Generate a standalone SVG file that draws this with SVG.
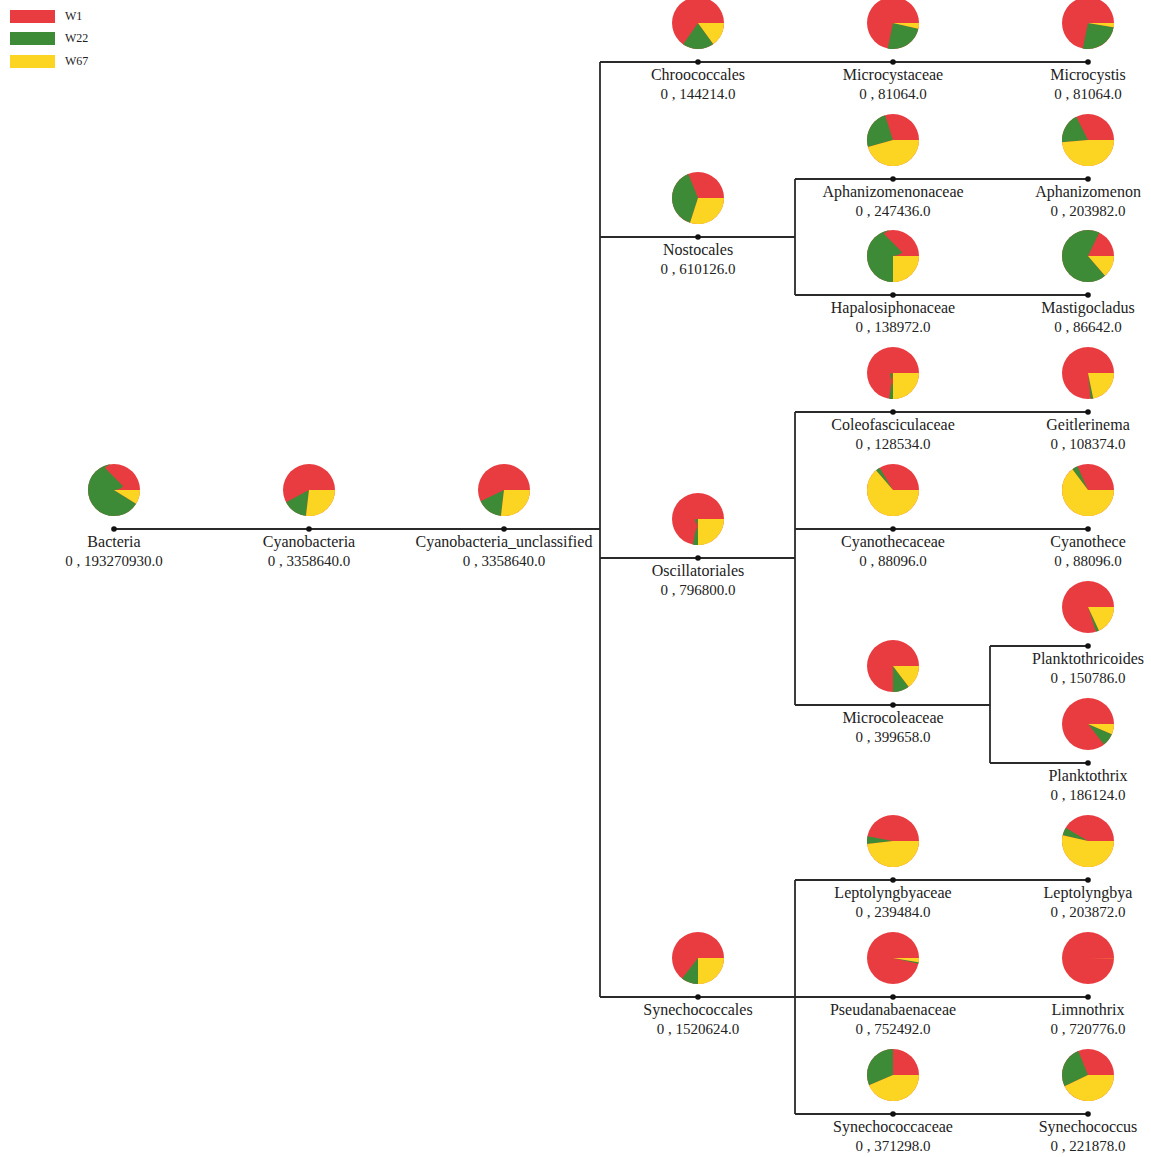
<svg xmlns="http://www.w3.org/2000/svg" width="1151" height="1157" viewBox="0 0 1151 1157">
<style>
  text { font-family: "Liberation Serif", "Times New Roman", serif; fill: #222; }
  .nm { font-size: 16px; text-anchor: middle; }
  .vl { font-size: 15px; text-anchor: middle; }
  .lg { font-size: 12px; }
  .conn path { fill: none; stroke: #2a2a2a; stroke-width: 1.8; }
  .dot { fill: #111; }
  .base { fill: #E93C40; }
  .sl { fill: none; stroke-width: 26; }
  .g { stroke: #3E8B37; }
  .y { stroke: #FCD523; }
</style>
<rect width="1151" height="1157" fill="#fff"/>

<g id="legend">
  <rect x="10" y="10" width="45" height="13" fill="#E93C40"/>
  <rect x="10" y="32" width="45" height="13" fill="#3E8B37"/>
  <rect x="10" y="55" width="45" height="13" fill="#FCD523"/>
  <text class="lg" x="65" y="19.5">W1</text>
  <text class="lg" x="65" y="41.5">W22</text>
  <text class="lg" x="65" y="64.5">W67</text>
</g>

<g id="connectors" class="conn">
  <path d="M114,529 H600"/>
  <path d="M600,62 V997"/>
  <path d="M600,62 H1088"/>
  <path d="M600,237 H795"/>
  <path d="M795,179 V295"/>
  <path d="M795,179 H1088"/>
  <path d="M795,295 H1088"/>
  <path d="M600,558 H795"/>
  <path d="M795,412 V705"/>
  <path d="M795,412 H1088"/>
  <path d="M795,529 H1088"/>
  <path d="M795,705 H990"/>
  <path d="M990,646 V763"/>
  <path d="M990,646 H1088"/>
  <path d="M990,763 H1088"/>
  <path d="M600,997 H1088"/>
  <path d="M795,880 V1114"/>
  <path d="M795,880 H1088"/>
  <path d="M795,1114 H1088"/>
</g>

<g id="n-bacteria" transform="translate(114,529)">
  <g transform="translate(0,-39) scale(1,-1)">
    <circle class="base" r="26"/>
    <circle class="sl g" r="13" pathLength="360" stroke-dasharray="238 360" stroke-dashoffset="-90"/>
    <circle class="sl y" r="13" pathLength="360" stroke-dasharray="32 360" stroke-dashoffset="-328"/>
  </g>
  <circle class="dot" r="2.8"/>
  <text class="nm" y="18">Bacteria</text>
  <text class="vl" y="37">0 , 193270930.0</text>
</g>

<g id="n-cyanobacteria" transform="translate(309,529)">
  <g transform="translate(0,-39) scale(1,-1)">
    <circle class="base" r="26"/>
    <circle class="sl g" r="13" pathLength="360" stroke-dasharray="55 360" stroke-dashoffset="-208"/>
    <circle class="sl y" r="13" pathLength="360" stroke-dasharray="97 360" stroke-dashoffset="-263"/>
  </g>
  <circle class="dot" r="2.8"/>
  <text class="nm" y="18">Cyanobacteria</text>
  <text class="vl" y="37">0 , 3358640.0</text>
</g>

<g id="n-cyanobacteria-unclassified" transform="translate(504,529)">
  <g transform="translate(0,-39) scale(1,-1)">
    <circle class="base" r="26"/>
    <circle class="sl g" r="13" pathLength="360" stroke-dasharray="57 360" stroke-dashoffset="-206"/>
    <circle class="sl y" r="13" pathLength="360" stroke-dasharray="97 360" stroke-dashoffset="-263"/>
  </g>
  <circle class="dot" r="2.8"/>
  <text class="nm" y="18">Cyanobacteria_unclassified</text>
  <text class="vl" y="37">0 , 3358640.0</text>
</g>

<g id="n-chroococcales" transform="translate(698,62)">
  <g transform="translate(0,-39) scale(1,-1)">
    <circle class="base" r="26"/>
    <circle class="sl g" r="13" pathLength="360" stroke-dasharray="71 360" stroke-dashoffset="-235"/>
    <circle class="sl y" r="13" pathLength="360" stroke-dasharray="54 360" stroke-dashoffset="-306"/>
  </g>
  <circle class="dot" r="2.8"/>
  <text class="nm" y="18">Chroococcales</text>
  <text class="vl" y="37">0 , 144214.0</text>
</g>

<g id="n-microcystaceae" transform="translate(893,62)">
  <g transform="translate(0,-39) scale(1,-1)">
    <circle class="base" r="26"/>
    <circle class="sl g" r="13" pathLength="360" stroke-dasharray="89 360" stroke-dashoffset="-258"/>
    <circle class="sl y" r="13" pathLength="360" stroke-dasharray="13 360" stroke-dashoffset="-347"/>
  </g>
  <circle class="dot" r="2.8"/>
  <text class="nm" y="18">Microcystaceae</text>
  <text class="vl" y="37">0 , 81064.0</text>
</g>

<g id="n-microcystis" transform="translate(1088,62)">
  <g transform="translate(0,-39) scale(1,-1)">
    <circle class="base" r="26"/>
    <circle class="sl g" r="13" pathLength="360" stroke-dasharray="92 360" stroke-dashoffset="-258"/>
    <circle class="sl y" r="13" pathLength="360" stroke-dasharray="10 360" stroke-dashoffset="-350"/>
  </g>
  <circle class="dot" r="2.8"/>
  <text class="nm" y="18">Microcystis</text>
  <text class="vl" y="37">0 , 81064.0</text>
</g>

<g id="n-nostocales" transform="translate(698,237)">
  <g transform="translate(0,-39) scale(1,-1)">
    <circle class="base" r="26"/>
    <circle class="sl g" r="13" pathLength="360" stroke-dasharray="140 360" stroke-dashoffset="-112"/>
    <circle class="sl y" r="13" pathLength="360" stroke-dasharray="108 360" stroke-dashoffset="-252"/>
  </g>
  <circle class="dot" r="2.8"/>
  <text class="nm" y="18">Nostocales</text>
  <text class="vl" y="37">0 , 610126.0</text>
</g>

<g id="n-aphanizomenonaceae" transform="translate(893,179)">
  <g transform="translate(0,-39) scale(1,-1)">
    <circle class="base" r="26"/>
    <circle class="sl g" r="13" pathLength="360" stroke-dasharray="88 360" stroke-dashoffset="-108"/>
    <circle class="sl y" r="13" pathLength="360" stroke-dasharray="164 360" stroke-dashoffset="-196"/>
  </g>
  <circle class="dot" r="2.8"/>
  <text class="nm" y="18">Aphanizomenonaceae</text>
  <text class="vl" y="37">0 , 247436.0</text>
</g>

<g id="n-aphanizomenon" transform="translate(1088,179)">
  <g transform="translate(0,-39) scale(1,-1)">
    <circle class="base" r="26"/>
    <circle class="sl g" r="13" pathLength="360" stroke-dasharray="68 360" stroke-dashoffset="-117"/>
    <circle class="sl y" r="13" pathLength="360" stroke-dasharray="175 360" stroke-dashoffset="-185"/>
  </g>
  <circle class="dot" r="2.8"/>
  <text class="nm" y="18">Aphanizomenon</text>
  <text class="vl" y="37">0 , 203982.0</text>
</g>

<g id="n-hapalosiphonaceae" transform="translate(893,295)">
  <g transform="translate(0,-39) scale(1,-1)">
    <circle class="base" r="26"/>
    <circle class="sl g" r="13" pathLength="360" stroke-dasharray="180 360" stroke-dashoffset="-90"/>
    <circle class="sl y" r="13" pathLength="360" stroke-dasharray="90 360" stroke-dashoffset="-270"/>
  </g>
  <circle class="dot" r="2.8"/>
  <text class="nm" y="18">Hapalosiphonaceae</text>
  <text class="vl" y="37">0 , 138972.0</text>
</g>

<g id="n-mastigocladus" transform="translate(1088,295)">
  <g transform="translate(0,-39) scale(1,-1)">
    <circle class="base" r="26"/>
    <circle class="sl g" r="13" pathLength="360" stroke-dasharray="247 360" stroke-dashoffset="-64"/>
    <circle class="sl y" r="13" pathLength="360" stroke-dasharray="49 360" stroke-dashoffset="-311"/>
  </g>
  <circle class="dot" r="2.8"/>
  <text class="nm" y="18">Mastigocladus</text>
  <text class="vl" y="37">0 , 86642.0</text>
</g>

<g id="n-oscillatoriales" transform="translate(698,558)">
  <g transform="translate(0,-39) scale(1,-1)">
    <circle class="base" r="26"/>
    <circle class="sl g" r="13" pathLength="360" stroke-dasharray="12 360" stroke-dashoffset="-258"/>
    <circle class="sl y" r="13" pathLength="360" stroke-dasharray="90 360" stroke-dashoffset="-270"/>
  </g>
  <circle class="dot" r="2.8"/>
  <text class="nm" y="18">Oscillatoriales</text>
  <text class="vl" y="37">0 , 796800.0</text>
</g>

<g id="n-coleofasciculaceae" transform="translate(893,412)">
  <g transform="translate(0,-39) scale(1,-1)">
    <circle class="base" r="26"/>
    <circle class="sl g" r="13" pathLength="360" stroke-dasharray="9 360" stroke-dashoffset="-261"/>
    <circle class="sl y" r="13" pathLength="360" stroke-dasharray="90 360" stroke-dashoffset="-270"/>
  </g>
  <circle class="dot" r="2.8"/>
  <text class="nm" y="18">Coleofasciculaceae</text>
  <text class="vl" y="37">0 , 128534.0</text>
</g>

<g id="n-geitlerinema" transform="translate(1088,412)">
  <g transform="translate(0,-39) scale(1,-1)">
    <circle class="base" r="26"/>
    <circle class="sl g" r="13" pathLength="360" stroke-dasharray="6 360" stroke-dashoffset="-276"/>
    <circle class="sl y" r="13" pathLength="360" stroke-dasharray="78 360" stroke-dashoffset="-282"/>
  </g>
  <circle class="dot" r="2.8"/>
  <text class="nm" y="18">Geitlerinema</text>
  <text class="vl" y="37">0 , 108374.0</text>
</g>

<g id="n-cyanothecaceae" transform="translate(893,529)">
  <g transform="translate(0,-39) scale(1,-1)">
    <circle class="base" r="26"/>
    <circle class="sl g" r="13" pathLength="360" stroke-dasharray="10 360" stroke-dashoffset="-121"/>
    <circle class="sl y" r="13" pathLength="360" stroke-dasharray="229 360" stroke-dashoffset="-131"/>
  </g>
  <circle class="dot" r="2.8"/>
  <text class="nm" y="18">Cyanothecaceae</text>
  <text class="vl" y="37">0 , 88096.0</text>
</g>

<g id="n-cyanothece" transform="translate(1088,529)">
  <g transform="translate(0,-39) scale(1,-1)">
    <circle class="base" r="26"/>
    <circle class="sl g" r="13" pathLength="360" stroke-dasharray="13 360" stroke-dashoffset="-114"/>
    <circle class="sl y" r="13" pathLength="360" stroke-dasharray="233 360" stroke-dashoffset="-127"/>
  </g>
  <circle class="dot" r="2.8"/>
  <text class="nm" y="18">Cyanothece</text>
  <text class="vl" y="37">0 , 88096.0</text>
</g>

<g id="n-microcoleaceae" transform="translate(893,705)">
  <g transform="translate(0,-39) scale(1,-1)">
    <circle class="base" r="26"/>
    <circle class="sl g" r="13" pathLength="360" stroke-dasharray="37 360" stroke-dashoffset="-270"/>
    <circle class="sl y" r="13" pathLength="360" stroke-dasharray="53 360" stroke-dashoffset="-307"/>
  </g>
  <circle class="dot" r="2.8"/>
  <text class="nm" y="18">Microcoleaceae</text>
  <text class="vl" y="37">0 , 399658.0</text>
</g>

<g id="n-planktothricoides" transform="translate(1088,646)">
  <g transform="translate(0,-39) scale(1,-1)">
    <circle class="base" r="26"/>
    <circle class="sl g" r="13" pathLength="360" stroke-dasharray="7 360" stroke-dashoffset="-288"/>
    <circle class="sl y" r="13" pathLength="360" stroke-dasharray="65 360" stroke-dashoffset="-295"/>
  </g>
  <circle class="dot" r="2.8"/>
  <text class="nm" y="18">Planktothricoides</text>
  <text class="vl" y="37">0 , 150786.0</text>
</g>

<g id="n-planktothrix" transform="translate(1088,763)">
  <g transform="translate(0,-39) scale(1,-1)">
    <circle class="base" r="26"/>
    <circle class="sl g" r="13" pathLength="360" stroke-dasharray="29 360" stroke-dashoffset="-308"/>
    <circle class="sl y" r="13" pathLength="360" stroke-dasharray="23 360" stroke-dashoffset="-337"/>
  </g>
  <circle class="dot" r="2.8"/>
  <text class="nm" y="18">Planktothrix</text>
  <text class="vl" y="37">0 , 186124.0</text>
</g>

<g id="n-synechococcales" transform="translate(698,997)">
  <g transform="translate(0,-39) scale(1,-1)">
    <circle class="base" r="26"/>
    <circle class="sl g" r="13" pathLength="360" stroke-dasharray="38 360" stroke-dashoffset="-232"/>
    <circle class="sl y" r="13" pathLength="360" stroke-dasharray="90 360" stroke-dashoffset="-270"/>
  </g>
  <circle class="dot" r="2.8"/>
  <text class="nm" y="18">Synechococcales</text>
  <text class="vl" y="37">0 , 1520624.0</text>
</g>

<g id="n-leptolyngbyaceae" transform="translate(893,880)">
  <g transform="translate(0,-39) scale(1,-1)">
    <circle class="base" r="26"/>
    <circle class="sl g" r="13" pathLength="360" stroke-dasharray="18 360" stroke-dashoffset="-169"/>
    <circle class="sl y" r="13" pathLength="360" stroke-dasharray="173 360" stroke-dashoffset="-187"/>
  </g>
  <circle class="dot" r="2.8"/>
  <text class="nm" y="18">Leptolyngbyaceae</text>
  <text class="vl" y="37">0 , 239484.0</text>
</g>

<g id="n-leptolyngbya" transform="translate(1088,880)">
  <g transform="translate(0,-39) scale(1,-1)">
    <circle class="base" r="26"/>
    <circle class="sl g" r="13" pathLength="360" stroke-dasharray="18 360" stroke-dashoffset="-149"/>
    <circle class="sl y" r="13" pathLength="360" stroke-dasharray="193 360" stroke-dashoffset="-167"/>
  </g>
  <circle class="dot" r="2.8"/>
  <text class="nm" y="18">Leptolyngbya</text>
  <text class="vl" y="37">0 , 203872.0</text>
</g>

<g id="n-pseudanabaenaceae" transform="translate(893,997)">
  <g transform="translate(0,-39) scale(1,-1)">
    <circle class="base" r="26"/>
    <circle class="sl g" r="13" pathLength="360" stroke-dasharray="3 360" stroke-dashoffset="-347"/>
    <circle class="sl y" r="13" pathLength="360" stroke-dasharray="10 360" stroke-dashoffset="-350"/>
  </g>
  <circle class="dot" r="2.8"/>
  <text class="nm" y="18">Pseudanabaenaceae</text>
  <text class="vl" y="37">0 , 752492.0</text>
</g>

<g id="n-limnothrix" transform="translate(1088,997)">
  <g transform="translate(0,-39) scale(1,-1)">
    <circle class="base" r="26"/>
    <circle class="sl g" r="13" pathLength="360" stroke-dasharray="0.5 360" stroke-dashoffset="-358.7"/>
    <circle class="sl y" r="13" pathLength="360" stroke-dasharray="0.8 360" stroke-dashoffset="-359.2"/>
  </g>
  <circle class="dot" r="2.8"/>
  <text class="nm" y="18">Limnothrix</text>
  <text class="vl" y="37">0 , 720776.0</text>
</g>

<g id="n-synechococcaceae" transform="translate(893,1114)">
  <g transform="translate(0,-39) scale(1,-1)">
    <circle class="base" r="26"/>
    <circle class="sl g" r="13" pathLength="360" stroke-dasharray="113 360" stroke-dashoffset="-90"/>
    <circle class="sl y" r="13" pathLength="360" stroke-dasharray="157 360" stroke-dashoffset="-203"/>
  </g>
  <circle class="dot" r="2.8"/>
  <text class="nm" y="18">Synechococcaceae</text>
  <text class="vl" y="37">0 , 371298.0</text>
</g>

<g id="n-synechococcus" transform="translate(1088,1114)">
  <g transform="translate(0,-39) scale(1,-1)">
    <circle class="base" r="26"/>
    <circle class="sl g" r="13" pathLength="360" stroke-dasharray="94 360" stroke-dashoffset="-112"/>
    <circle class="sl y" r="13" pathLength="360" stroke-dasharray="154 360" stroke-dashoffset="-206"/>
  </g>
  <circle class="dot" r="2.8"/>
  <text class="nm" y="18">Synechococcus</text>
  <text class="vl" y="37">0 , 221878.0</text>
</g>
</svg>
